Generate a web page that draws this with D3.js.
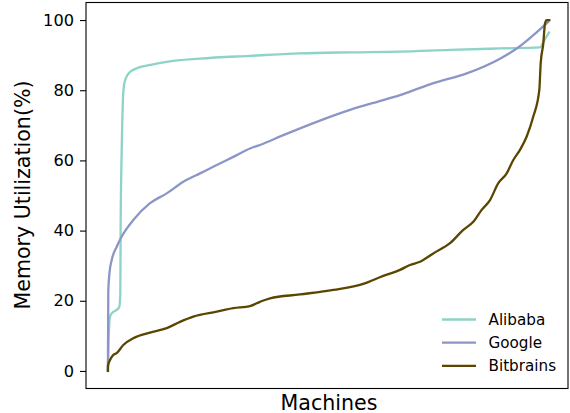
<!DOCTYPE html>
<html>
<head>
<meta charset="utf-8">
<script src="https://cdn.jsdelivr.net/npm/d3@7"></script>
<style>
  body { margin: 0; background: #fff; }
  svg { display: block; font-family: "DejaVu Sans", sans-serif; }
</style>
</head>
<body>
<svg id="chart" width="570" height="413"></svg>
<script>
// Machines (fraction of sorted machines, 0..1) and memory utilization (%)
const alibabaX = [0, 0.0014, 0.0048, 0.0087, 0.020, 0.026, 0.0283, 0.029, 0.031, 0.0329, 0.0345, 0.0367, 0.0413, 0.0504, 0.058, 0.073, 0.096, 0.134, 0.210, 0.324, 0.438, 0.552, 0.667, 0.781, 0.895, 0.986, 0.993, 1.002, 1.0066];
const alibabaY = [0, 8, 15.5, 16.4, 17.4, 18.3, 22, 40, 60, 71.5, 78, 81.5, 83.5, 85.2, 85.8, 86.6, 87.2, 88.1, 89, 89.8, 90.5, 90.8, 91, 91.5, 91.9, 92.2, 93.5, 95.5, 96.4];

const googlePx = [107.3, 107.8, 108.3, 109.5, 111.7, 116.7, 121.7, 133.3, 150, 166.7, 183.3, 200, 216.7, 233.3, 250, 260, 283.3, 316.7, 350, 383.3, 400, 410, 433.3, 466.7, 500, 516.7, 533.3, 548.3];
const googleY = [0, 12, 23, 28, 31.6, 35.4, 38.3, 43, 47.8, 50.6, 53.9, 56.3, 58.7, 61, 63.4, 64.4, 67.2, 71, 74.4, 77.2, 78.6, 79.6, 82, 84.8, 89, 91.9, 95.7, 99.5];

const bitbrainsPx = [107.3, 108, 110, 113, 116.7, 123.3, 133.3, 150, 166.7, 180, 193.3, 216.7, 233.3, 250, 260, 270, 300, 333.3, 363.3, 383.3, 400, 410, 420, 433.3, 450, 463.3, 473.3, 481.7, 490, 498.3, 506.7, 513.3, 520, 526.7, 533.3, 539.3, 540.7, 543.3, 545, 546.7, 549.3];
const bitbrainsY = [0, 1.5, 3.1, 4.5, 5.1, 7.4, 9.3, 10.9, 12.2, 14, 15.5, 16.9, 17.9, 18.5, 19.7, 20.7, 21.8, 23.1, 24.8, 27.1, 28.8, 30.2, 31.1, 33.5, 36.4, 40.2, 42.5, 45.9, 48.7, 53.5, 56.3, 60.1, 63, 66.8, 72.5, 80, 87.7, 93.3, 99, 100, 100];

const yTicks = [0, 20, 40, 60, 80, 100];
const seriesNames = ["Alibaba", "Google", "Bitbrains"];
const seriesColors = ["#8dd3c7", "#8c96c6", "#5b4600"];

// convert read-off machine positions to fractions
const toFrac = p => Math.max(0, (p - 107.9) / 438.2);
const googleX = googlePx.map(toFrac);
const bitbrainsX = bitbrainsPx.map(toFrac);

const series = [
  { name: seriesNames[0], color: seriesColors[0], pts: alibabaX.map((x, i) => [x, alibabaY[i]]) },
  { name: seriesNames[1], color: seriesColors[1], pts: googleX.map((x, i) => [x, googleY[i]]) },
  { name: seriesNames[2], color: seriesColors[2], pts: bitbrainsX.map((x, i) => [x, bitbrainsY[i]]) }
];

const svg = d3.select("#chart");
const L = 86, R = 568, T = 2.5, B = 388.5;

const x = d3.scaleLinear().domain([-0.05, 1.05]).range([L, R]);
const y = d3.scaleLinear().domain([-5, 105]).range([B, T]);

const line = d3.line().x(d => x(d[0])).y(d => y(d[1])).curve(d3.curveMonotoneX);

const g = svg.append("g");
series.forEach(s => {
  // drop duplicate x (monotone curve needs increasing x)
  const pts = s.pts.filter((d, i, a) => i === 0 || d[0] > a[i - 1][0]);
  g.append("path")
    .datum(pts)
    .attr("fill", "none")
    .attr("stroke", s.color)
    .attr("stroke-width", 2.3)
    .attr("stroke-linejoin", "round")
    .attr("stroke-linecap", "square")
    .attr("d", line);
});

// frame
svg.append("rect")
  .attr("x", L).attr("y", T)
  .attr("width", R - L).attr("height", B - T)
  .attr("fill", "none").attr("stroke", "#000").attr("stroke-width", 1.1);

// y axis
const yAxis = d3.axisLeft(y).tickValues(yTicks).tickSize(6).tickPadding(6).tickFormat(d3.format("d"));
const ya = svg.append("g").attr("transform", `translate(${L},0)`).call(yAxis);
ya.select(".domain").remove();
ya.selectAll(".tick line").attr("stroke", "#000").attr("stroke-width", 1.1);
ya.selectAll(".tick text").attr("font-size", 16.2).attr("fill", "#000")
  .attr("font-family", "DejaVu Sans");

// axis labels
svg.append("text")
  .attr("transform", "translate(30,195) rotate(-90)")
  .attr("text-anchor", "middle")
  .attr("font-size", 20.6)
  .attr("fill", "#000")
  .text("Memory Utilization(%)");

svg.append("text")
  .attr("x", 329).attr("y", 410)
  .attr("text-anchor", "middle")
  .attr("font-size", 20.6)
  .attr("fill", "#000")
  .text("Machines");

// legend
const leg = svg.append("g");
series.forEach((s, i) => {
  const cy = 319.5 + i * 23.2;
  leg.append("line")
    .attr("x1", 442).attr("x2", 476)
    .attr("y1", cy).attr("y2", cy)
    .attr("stroke", s.color).attr("stroke-width", 2.3);
  leg.append("text")
    .attr("x", 488.5).attr("y", cy)
    .attr("dy", "0.36em")
    .attr("font-size", 15.2)
    .attr("fill", "#000")
    .text(s.name);
});
</script>
</body>
</html>
